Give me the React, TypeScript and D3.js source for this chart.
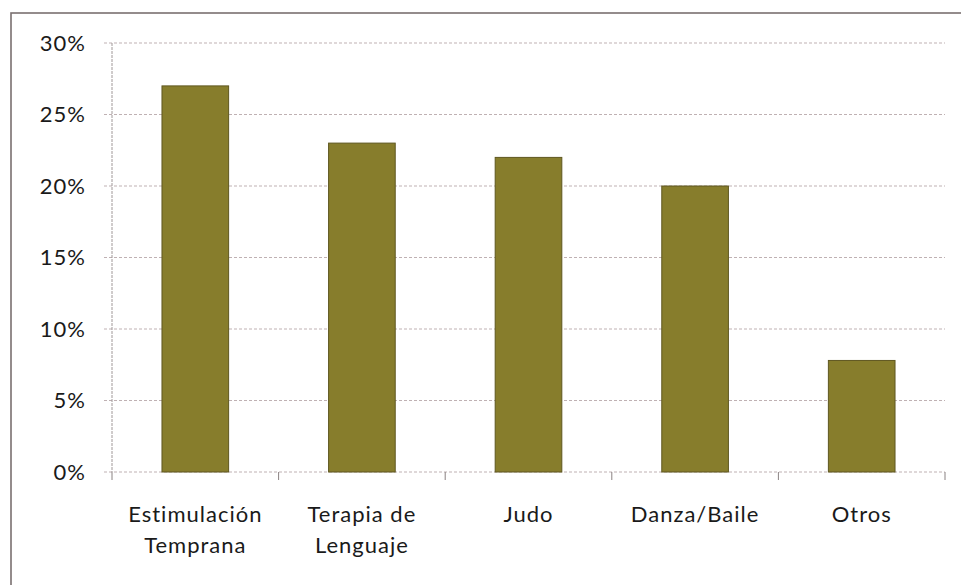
import React, { useEffect, useRef } from 'react';
import * as d3 from 'd3';

const categories = ['Estimulación\nTemprana', 'Terapia de\nLenguaje', 'Judo', 'Danza/Baile', 'Otros'];
const values = [0.27, 0.23, 0.22, 0.2, 0.078];
const yTicks = [0, 0.05, 0.1, 0.15, 0.2, 0.25, 0.3];

const W = 961;
const H = 585;
const FONT = 'Lato, "Open Sans", sans-serif';

function App() {
  const svgRef = useRef<SVGSVGElement | null>(null);

  useEffect(() => {
    const svg = d3.select(svgRef.current);
    svg.selectAll('*').remove();

    // plot area
    const left = 112, right = 945, top = 43, bottom = 472;

    const x = d3.scaleBand().domain(categories).range([left, right]).paddingInner(0.6).paddingOuter(0.3);
    const y = d3.scaleLinear().domain([0, 0.3]).range([bottom, top]);

    svg.append('rect').attr('width', W).attr('height', H).attr('fill', '#ffffff');

    // outer border (scanned frame)
    svg.append('rect')
      .attr('x', 11).attr('y', 13).attr('width', 990).attr('height', 620)
      .attr('fill', 'none').attr('stroke', '#7a7070').attr('stroke-width', 1.6);

    // gridlines
    svg.append('g').selectAll('line').data(yTicks).join('line')
      .attr('x1', left - 8).attr('x2', right)
      .attr('y1', d => y(d)).attr('y2', d => y(d))
      .attr('stroke', '#b8a8aa').attr('stroke-width', 0.9).attr('stroke-dasharray', '3,2');

    // y axis line
    svg.append('line')
      .attr('x1', left).attr('x2', left).attr('y1', top).attr('y2', bottom)
      .attr('stroke', '#a09898').attr('stroke-width', 1).attr('stroke-dasharray', '3,1');

    // y tick labels
    svg.append('g').selectAll('text').data(yTicks).join('text')
      .attr('x', 86).attr('y', d => y(d)).attr('dy', '0.36em')
      .attr('text-anchor', 'end')
      .attr('font-family', FONT).attr('font-size', 22).attr('letter-spacing', 1).attr('fill', '#1a1a1a')
      .text(d => d3.format('.0%')(d));

    // x axis ticks between categories
    const step = (right - left) / categories.length;
    svg.append('g').selectAll('line').data(d3.range(categories.length + 1)).join('line')
      .attr('x1', d => left + d * step).attr('x2', d => left + d * step)
      .attr('y1', bottom).attr('y2', bottom + 8)
      .attr('stroke', '#8a8282').attr('stroke-width', 1);

    // bars
    svg.append('g').selectAll('rect').data(values).join('rect')
      .attr('x', (d, i) => x(categories[i])!)
      .attr('y', d => y(d))
      .attr('width', x.bandwidth())
      .attr('height', d => bottom - y(d))
      .attr('fill', '#877d2c').attr('stroke', '#5f5720').attr('stroke-width', 1);

    // category labels
    const lab = svg.append('g').selectAll('text').data(categories).join('text')
      .attr('x', d => x(d)! + x.bandwidth() / 2)
      .attr('y', 522)
      .attr('text-anchor', 'middle')
      .attr('font-family', FONT).attr('font-size', 22).attr('letter-spacing', 1).attr('fill', '#1a1a1a');
    lab.each(function (d) {
      const t = d3.select(this);
      d.split('\n').forEach((line, i) => {
        t.append('tspan').attr('x', x(d)! + x.bandwidth() / 2).attr('dy', i === 0 ? 0 : 31).text(line);
      });
    });
  }, []);

  return (
    <svg ref={svgRef} width={W} height={H} style={{ position: 'absolute', left: 0, top: 0 }} />
  );
}

export default App;
